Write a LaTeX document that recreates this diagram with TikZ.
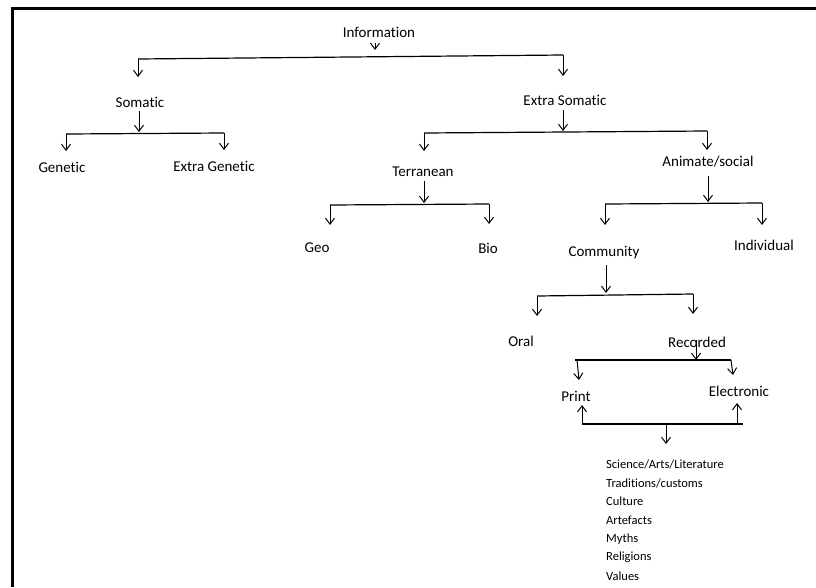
\documentclass[tikz,border=0pt]{standalone}
\usepackage{fontspec}
\setmainfont[Ligatures=NoCommon]{Carlito}
\usetikzlibrary{arrows.meta}
\begin{document}
\begin{tikzpicture}[x=1pt,y=-1pt,
  lbl/.style={inner sep=0pt,font=\fontsize{15}{17}\selectfont},
  lst/.style={inner sep=0pt,font=\fontsize{12.5}{14}\selectfont,anchor=west},
  br/.style={line width=1.2pt},
  arr/.style={line width=1pt,-{Straight Barb[length=6pt,width=9pt,line width=1pt]}}]
\useasboundingbox (0,0) rectangle (816,587);
\draw[line width=3pt] (12,587) -- (12,8) -- (816,8);
% nodes
\node[lbl] (info) at (379,32) {Information};
\node[lbl] (som) at (140,102) {Somatic};
\node[lbl] (xsom) at (565,100) {Extra Somatic};
\node[lbl] (gen) at (62,167) {Genetic};
\node[lbl] (xgen) at (214,166) {Extra Genetic};
\node[lbl] (terr) at (423,172) {Terranean};
\node[lbl] (anim) at (708,162) {Animate/social};
\node[lbl] (geo) at (317,248) {Geo};
\node[lbl] (bio) at (488,248) {Bio};
\node[lbl] (comm) at (604,253) {Community};
\node[lbl] (indiv) at (764,245) {Individual};
\node[lbl] (oral) at (521,341) {Oral};
\node[lbl] (rec) at (697,342) {Recorded};
\node[lbl] (print) at (576,396) {Print};
\node[lbl] (elec) at (739,391) {Electronic};
\node[lst] (l1) at (606,464) {Science/Arts/Literature};
\node[lst] (l2) at (606,483) {Traditions/customs};
\node[lst] (l3) at (606,501) {Culture};
\node[lst] (l4) at (606,520) {Artefacts};
\node[lst] (l5) at (606,539) {Myths};
\node[lst] (l6) at (606,557) {Religions};
\node[lst] (l7) at (606,576) {Values};
% Information branch
\coordinate (a0s) at (375,43); \coordinate (a0e) at (375,50);
\draw[arr] (a0s) -- (a0e);
\coordinate (b1L) at (138,59); \coordinate (b1R) at (563,55);
\coordinate (t1L) at (138,77); \coordinate (t1R) at (563,76);
\draw[br] (b1L) -- (b1R);
\draw[arr] (b1L) -- (t1L);
\draw[arr] (b1R) -- (t1R);
% Somatic branch
\coordinate (s0) at (139,111); \coordinate (b2M) at (139,132);
\coordinate (b2L) at (66,134); \coordinate (b2R) at (224,133);
\coordinate (t2L) at (66,151); \coordinate (t2R) at (224,150);
\draw[arr] (s0) -- (b2M);
\draw[br] (b2L) -- (b2R);
\draw[arr] (b2L) -- (t2L);
\draw[arr] (b2R) -- (t2R);
% Extra Somatic branch
\coordinate (x0) at (563,110); \coordinate (b3M) at (563,131);
\coordinate (b3L) at (424,133); \coordinate (b3R) at (707,131);
\coordinate (t3L) at (424,151); \coordinate (t3R) at (707,150);
\draw[arr] (x0) -- (b3M);
\draw[br] (b3L) -- (b3R);
\draw[arr] (b3L) -- (t3L);
\draw[arr] (b3R) -- (t3R);
% Terranean branch
\coordinate (te0) at (424,181); \coordinate (b4M) at (424,203);
\coordinate (b4L) at (330,205); \coordinate (b4R) at (489,204);
\coordinate (t4L) at (330,225); \coordinate (t4R) at (489,224);
\draw[arr] (te0) -- (b4M);
\draw[br] (b4L) -- (b4R);
\draw[arr] (b4L) -- (t4L);
\draw[arr] (b4R) -- (t4R);
% Animate/social branch
\coordinate (an0) at (708,176); \coordinate (b5M) at (708,202);
\coordinate (b5L) at (605,204); \coordinate (b5R) at (762,203);
\coordinate (t5L) at (605,225); \coordinate (t5R) at (762,225);
\draw[arr] (an0) -- (b5M);
\draw[br] (b5L) -- (b5R);
\draw[arr] (b5L) -- (t5L);
\draw[arr] (b5R) -- (t5R);
% Community branch
\coordinate (c0) at (606,265); \coordinate (b6M) at (606,293);
\coordinate (b6L) at (537,296); \coordinate (b6R) at (693,294);
\coordinate (t6L) at (537,316); \coordinate (t6R) at (693,314);
\draw[arr] (c0) -- (b6M);
\draw[br] (b6L) -- (b6R);
\draw[arr] (b6L) -- (t6L);
\draw[arr] (b6R) -- (t6R);
% Recorded branch
\coordinate (r0) at (696,340); \coordinate (b7M) at (696,360);
\coordinate (b7L) at (575,360); \coordinate (b7R) at (731,360);
\coordinate (t7L) at (579,380); \coordinate (t7R) at (733,375);
\draw[arr] (r0) -- (b7M);
\draw[br] (b7L) -- (b7R);
\draw[arr] (b7L) -- ++(2,0) -- (t7L);
\draw[arr] (b7R) -- (t7R);
% Print/Electronic join
\coordinate (b8L) at (582,424); \coordinate (b8R) at (743,424);
\coordinate (p0) at (582,405); \coordinate (e0) at (737,403);
\coordinate (b8M) at (666,424); \coordinate (t8M) at (666,444);
\draw[br] (b8L) -- (b8R);
\draw[arr] (b8L) -- (p0);
\draw[arr] (737,424) -- (e0);
\draw[arr] (b8M) -- (t8M);
\end{tikzpicture}
\end{document}
